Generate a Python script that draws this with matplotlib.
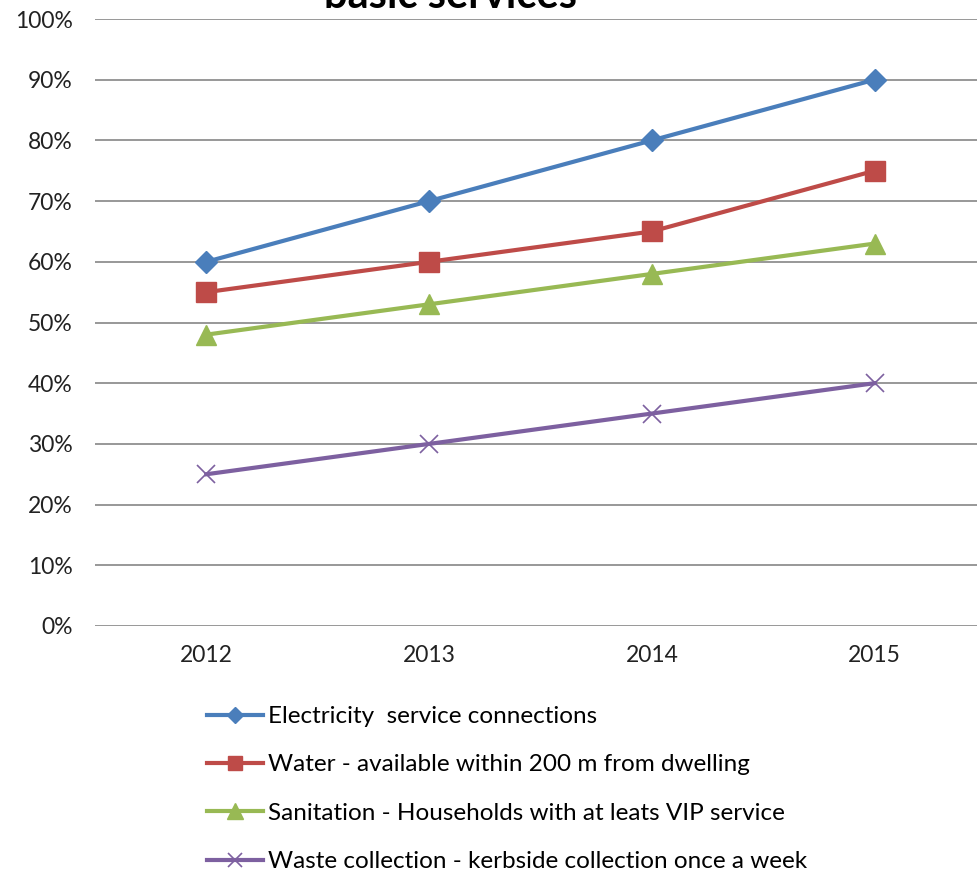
import numpy as np
import matplotlib.pyplot as plt
from matplotlib.ticker import PercentFormatter

## Data
years = ['2012', '2013', '2014', '2015']
electricity = [60, 70, 80, 90]
water = [55, 60, 65, 75]
sanitation = [48, 53, 58, 63]
waste = [25, 30, 35, 40]

labels = [
    'Electricity  service connections',
    'Water - available within 200 m from dwelling',
    'Sanitation - Households with at leats VIP service',
    'Waste collection - kerbside collection once a week',
]

plt.rcParams['font.family'] = ['Lato', 'DejaVu Sans']

fig = plt.figure(figsize=(9.77, 8.76), dpi=100)
ax = fig.add_axes([95 / 977, 1 - 626 / 876, 1 - 95 / 977, (626 - 19) / 876])

x = np.arange(len(years))

ax.plot(x, electricity, color='#4A7EBB', lw=3, marker='D', ms=11, label=labels[0])
ax.plot(x, water, color='#BE4B48', lw=3, marker='s', ms=14, label=labels[1])
ax.plot(x, sanitation, color='#98B954', lw=3, marker='^', ms=15, label=labels[2])
ax.plot(x, waste, color='#7D60A0', lw=3, marker='x', ms=13, mew=1.2, label=labels[3])

ax.set_xlim(-0.5, 3.46)
ax.set_ylim(0, 100)
ax.set_yticks(np.arange(0, 101, 10))
ax.yaxis.set_major_formatter(PercentFormatter(decimals=0))
ax.set_xticks(x)
ax.set_xticklabels(years)
ax.tick_params(length=0, labelsize=16.5, colors='#222222', pad=14)
ax.tick_params(axis='y', pad=16)
ax.grid(axis='y', color='#868686', lw=1.2)
ax.set_axisbelow(True)
for s in ax.spines.values():
    s.set_visible(False)

# title is clipped at the top of the image (as in the original)
fig.text(451 / 977, 1 - 8 / 876, 'basic services', ha='center', va='baseline',
         fontsize=30, fontweight='bold')

fig.legend(loc='upper left', bbox_to_anchor=(207 / 977, 1 - 706 / 876),
           frameon=False, fontsize=17.5, handlelength=2.3, handletextpad=0.2,
           labelspacing=1.13, borderpad=0, borderaxespad=0, markerscale=0.75)

fig.savefig('out.png', dpi=100)
